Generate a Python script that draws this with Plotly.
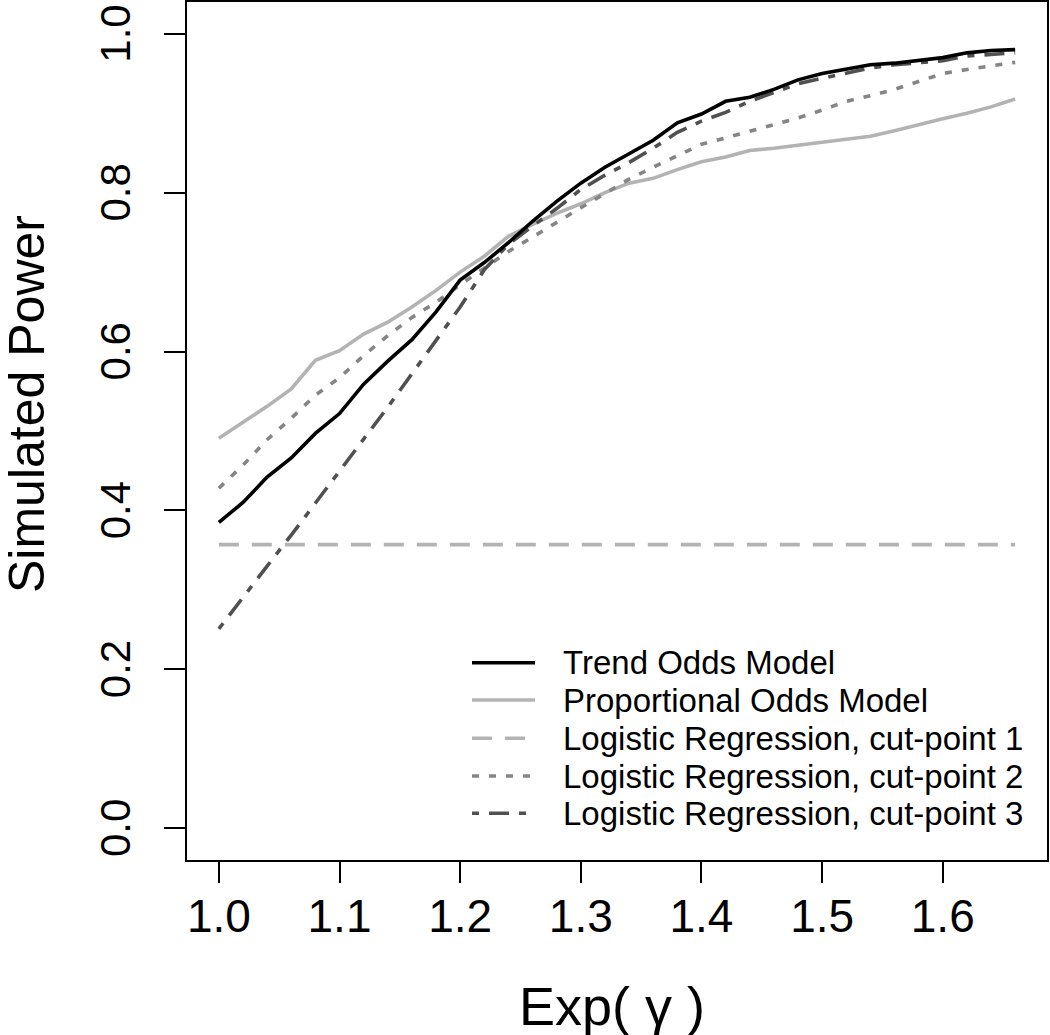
import plotly.graph_objects as go

# ---- data ----
exp_gamma = [1.00, 1.02, 1.04, 1.06, 1.08, 1.10, 1.12, 1.14, 1.16, 1.18,
             1.20, 1.22, 1.24, 1.26, 1.28, 1.30, 1.32, 1.34, 1.36, 1.38,
             1.40, 1.42, 1.44, 1.46, 1.48, 1.50, 1.52, 1.54, 1.56, 1.58,
             1.60, 1.62, 1.64, 1.66]

trend_odds = [0.385, 0.410, 0.442, 0.466, 0.497, 0.522, 0.559, 0.588, 0.615, 0.650,
              0.690, 0.712, 0.737, 0.764, 0.789, 0.812, 0.832, 0.849, 0.866, 0.888,
              0.899, 0.915, 0.920, 0.930, 0.942, 0.950, 0.956, 0.961, 0.963, 0.966,
              0.970, 0.976, 0.979, 0.980]

prop_odds = [0.491, 0.511, 0.531, 0.553, 0.589, 0.601, 0.622, 0.637, 0.656, 0.677,
             0.700, 0.720, 0.745, 0.760, 0.774, 0.786, 0.800, 0.812, 0.818, 0.829,
             0.839, 0.845, 0.853, 0.856, 0.860, 0.864, 0.867, 0.871, 0.878, 0.886,
             0.893, 0.900, 0.908, 0.918]

logit_cut1 = [0.357] * 34

logit_cut2 = [0.428, 0.457, 0.489, 0.516, 0.545, 0.567, 0.595, 0.620, 0.643, 0.662,
              0.684, 0.705, 0.726, 0.744, 0.763, 0.781, 0.799, 0.817, 0.832, 0.847,
              0.861, 0.869, 0.877, 0.886, 0.894, 0.904, 0.915, 0.922, 0.930, 0.940,
              0.950, 0.955, 0.959, 0.964]

logit_cut3 = [0.251, 0.291, 0.330, 0.369, 0.409, 0.449, 0.489, 0.530, 0.572, 0.614,
              0.656, 0.703, 0.735, 0.758, 0.780, 0.804, 0.822, 0.838, 0.856, 0.876,
              0.890, 0.901, 0.915, 0.926, 0.937, 0.944, 0.950, 0.957, 0.961, 0.963,
              0.966, 0.972, 0.974, 0.976]

x_ticks = [1.0, 1.1, 1.2, 1.3, 1.4, 1.5, 1.6]
y_ticks = [0.0, 0.2, 0.4, 0.6, 0.8, 1.0]

series_names = ["Trend Odds Model", "Proportional Odds Model",
                "Logistic Regression, cut-point 1", "Logistic Regression, cut-point 2",
                "Logistic Regression, cut-point 3"]

# ---- styles ----
styles = [
    dict(color="#000000", width=3.6, dash="solid"),
    dict(color="#b3b3b3", width=3.6, dash="solid"),
    dict(color="#b3b3b3", width=3.6, dash="20px,13px"),
    dict(color="#858585", width=3.6, dash="7px,10px"),
    dict(color="#505050", width=3.6, dash="7px,10px,20px,10px"),
]
series_values = [trend_odds, prop_odds, logit_cut1, logit_cut2, logit_cut3]

FONT = "Liberation Sans, Arial, sans-serif"

fig = go.Figure()
order = [2, 1, 3, 4, 0]
for i in order:
    fig.add_trace(go.Scatter(x=exp_gamma, y=series_values[i], mode="lines",
                             name=series_names[i], line=styles[i], showlegend=False))

W, H = 1050, 1035
ml, mr, mt, mb = 187, 3, 2, 175
pw = W - ml - mr
ph = H - mt - mb

def px2paper_x(px):
    return (px - ml) / pw

def py2paper_y(py):
    return (H - mb - py) / ph

shapes = []
annotations = []
leg_rows = [662.7, 700.0, 738.3, 776.0, 813.3]
for i, yy in enumerate(leg_rows):
    st = styles[i]
    shapes.append(dict(type="line", xref="paper", yref="paper",
                       x0=px2paper_x(472), x1=px2paper_x(535),
                       y0=py2paper_y(yy), y1=py2paper_y(yy),
                       line=dict(color=st["color"], width=st["width"], dash=st["dash"])))
    annotations.append(dict(text=series_names[i], xref="paper", yref="paper",
                            x=px2paper_x(561), y=py2paper_y(yy), xanchor="left",
                            yanchor="middle", showarrow=False,
                            font=dict(family=FONT, size=33, color="black")))

annotations.append(dict(text="Exp( γ )", xref="paper", yref="paper",
                        x=px2paper_x(612), y=py2paper_y(1006), xanchor="center",
                        yanchor="middle", showarrow=False,
                        font=dict(family=FONT, size=54, color="black")))
annotations.append(dict(text="Simulated Power", xref="paper", yref="paper",
                        x=px2paper_x(27), y=py2paper_y(404), xanchor="center",
                        yanchor="middle", textangle=-90, showarrow=False,
                        font=dict(family=FONT, size=50, color="black")))

fig.update_layout(
    width=W, height=H,
    margin=dict(l=ml, r=mr, t=mt, b=mb),
    paper_bgcolor="white", plot_bgcolor="white",
    shapes=shapes, annotations=annotations,
    font=dict(family=FONT, color="black"),
)
fig.update_xaxes(range=[0.9736, 1.6864], tickvals=x_ticks,
                 ticktext=[f"{v:.1f}" for v in x_ticks],
                 ticks="outside", ticklen=21, tickwidth=2, tickcolor="black",
                 showline=True, linecolor="black", linewidth=2, mirror=True,
                 showgrid=False, zeroline=False, automargin=False,
                 ticklabeloverflow="allow",
                 tickfont=dict(family=FONT, size=46, color="black"),
                 ticklabelstandoff=-6)
fig.update_yaxes(range=[-0.04, 1.04], tickvals=y_ticks,
                 ticktext=[f"{v:.1f}" for v in y_ticks],
                 ticks="outside", ticklen=21, tickwidth=2, tickcolor="black",
                 showline=True, linecolor="black", linewidth=2, mirror=True,
                 showgrid=False, zeroline=False, tickangle=-90, automargin=False,
                 ticklabeloverflow="allow", ticklabelshift=6,
                 tickfont=dict(family=FONT, size=42, color="black"),
                 ticklabelstandoff=17)

fig.write_html("out.html", config={"displayModeBar": False},
               post_script="document.body.style.margin='0';document.body.style.padding='0';")
